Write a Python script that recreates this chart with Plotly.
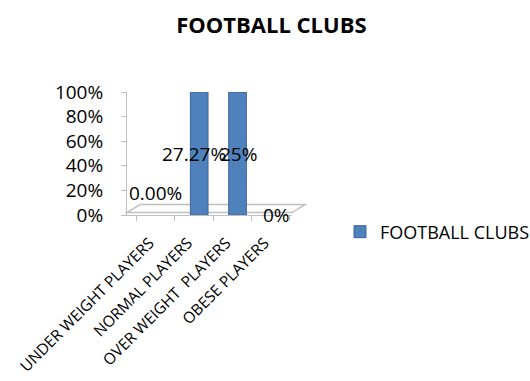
import plotly.graph_objects as go

# Player weight categories for the football clubs group
categories = ["UNDER WEIGHT PLAYERS", "NORMAL PLAYERS", "OVER WEIGHT  PLAYERS", "OBESE PLAYERS"]
values = [0.0, 27.27, 25.0, 0.0]
value_labels = ["0.00%", "27.27%", "25%", "0%"]
series_name = "FOOTBALL CLUBS"
y_ticks = [0, 20, 40, 60, 80, 100]

FONT = "Open Sans"
BLUE = "#4F81BD"
GRID = "#BFBFBF"

W, H = 530, 381
L, R, T, B = 127, 238, 92, 166

fig = go.Figure()
fig.add_trace(go.Bar(
    x=categories,
    y=values,
    name=series_name,
    marker=dict(color=BLUE, line=dict(color="#3A6596", width=1)),
    width=0.46,
    offset=-0.09,
    showlegend=True,
))

# 100% stacked layout: a single series fills each non-empty column
fig.update_layout(barmode="stack", barnorm="percent")

# data labels: centred in the column, zero values sit near the floor
label_lift = [18, 0, 0, 0]
label_shift = [0, 0, 6, 6]
for i, (cat, v, txt) in enumerate(zip(categories, values, value_labels)):
    pct = 100.0 if v > 0 else 0.0
    fig.add_annotation(
        x=cat, y=pct / 2 + label_lift[i], xref="x", yref="y",
        text=txt, showarrow=False,
        xshift=label_shift[i],
        font=dict(family=FONT, size=19, color="#000000"),
    )

# 3-D floor under the columns
fig.add_shape(
    type="path",
    xref="x domain", yref="y domain",
    path="M 0 0.02 L 1 0.02 L 1.079 0.085 L 0.079 0.085 Z",
    line=dict(color=GRID, width=1.5),
    fillcolor="rgba(255,255,255,0)",
    layer="below",
)

fig.update_layout(
    width=W, height=H,
    margin=dict(l=L, r=R, t=T, b=B, autoexpand=False),
    paper_bgcolor="white", plot_bgcolor="white",
    font=dict(family=FONT, color="#000000"),
    title=dict(
        text="<b>FOOTBALL CLUBS</b>",
        x=0.512, xref="container", xanchor="center",
        y=1 - 25 / H, yref="container", yanchor="middle",
        font=dict(family=FONT, size=22, color="#000000"),
    ),
    legend=dict(
        x=340 / W, xref="container", xanchor="left",
        y=1 - 232 / H, yref="container", yanchor="middle",
        font=dict(family=FONT, size=18, color="#000000"),
        itemwidth=30,
    ),
    bargap=0.3,
)

fig.update_xaxes(
    type="category",
    showline=True, linecolor=GRID, linewidth=1,
    ticks="outside", ticklen=5, tickcolor=GRID,
    tickson="boundaries",
    tickangle=-45,
    ticklabelstandoff=12,
    ticklabelshift=-6,
    tickfont=dict(family=FONT, size=15.5, color="#000000"),
    showgrid=False,
    automargin=False,
)
fig.update_yaxes(
    range=[0, 100],
    tickvals=y_ticks,
    ticktext=[f"{t}%" for t in y_ticks],
    showline=True, linecolor=GRID, linewidth=1,
    ticks="outside", ticklen=5, tickcolor=GRID,
    ticklabelstandoff=14,
    tickfont=dict(family=FONT, size=19, color="#000000"),
    showgrid=False, zeroline=False,
    automargin=False,
)

fig.write_html("out.html")
